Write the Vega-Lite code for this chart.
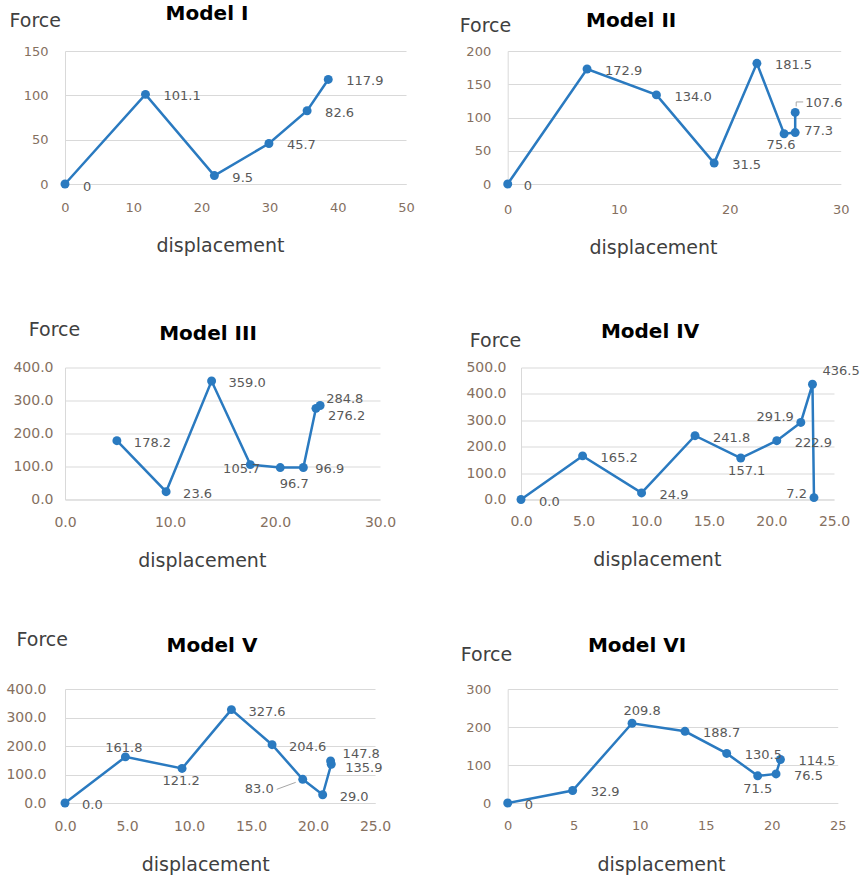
{
"$schema": "https://vega.github.io/schema/vega-lite/v6.json",
"padding": {"left": 5, "top": 4, "right": 5, "bottom": 3},
"config": {
 "view": {"stroke": null},
 "axis": {"labelFont": "DejaVu Sans", "labelFontSize": 13, "labelColor": "#85705f", "ticks": false, "tickSize": 0, "domainColor": "#d9d9d9", "gridColor": "#d9d9d9", "titleFont": "DejaVu Sans", "titleFontSize": 19, "titleFontWeight": "normal", "titleColor": "#404040", "labelFlush": false, "labelOverlap": false, "labelBound": false},
 "axisX": {"grid": false, "titleAlign": "center", "titleBaseline": "alphabetic"},
 "axisY": {"grid": true, "titleAngle": 0, "titleAlign": "left", "titleBaseline": "alphabetic"},
 "title": {"font": "DejaVu Sans", "fontSize": 20, "fontWeight": "bold", "color": "#000000", "anchor": "middle", "frame": "group", "baseline": "alphabetic"},
 "text": {"font": "DejaVu Sans", "fontSize": 13, "fill": "#595959"},
 "line": {"stroke": "#2a7ac0", "strokeWidth": 2.5},
 "circle": {"fill": "#2a7ac0", "size": 80, "opacity": 1},
 "rule": {"stroke": "#a6a6a6", "strokeWidth": 1}
},
"data": {"values": [
 {"model": "Model I", "step": 1, "disp": 0, "force": 0},
 {"model": "Model I", "step": 2, "disp": 11.8, "force": 101.1},
 {"model": "Model I", "step": 3, "disp": 21.9, "force": 9.5},
 {"model": "Model I", "step": 4, "disp": 29.9, "force": 45.7},
 {"model": "Model I", "step": 5, "disp": 35.5, "force": 82.6},
 {"model": "Model I", "step": 6, "disp": 38.6, "force": 117.9},
 {"model": "Model II", "step": 1, "disp": 0, "force": 0},
 {"model": "Model II", "step": 2, "disp": 7.15, "force": 172.9},
 {"model": "Model II", "step": 3, "disp": 13.4, "force": 134.0},
 {"model": "Model II", "step": 4, "disp": 18.6, "force": 31.5},
 {"model": "Model II", "step": 5, "disp": 22.45, "force": 181.5},
 {"model": "Model II", "step": 6, "disp": 24.9, "force": 75.6},
 {"model": "Model II", "step": 7, "disp": 25.9, "force": 77.3},
 {"model": "Model II", "step": 8, "disp": 25.9, "force": 107.6},
 {"model": "Model III", "step": 1, "disp": 4.94, "force": 178.2},
 {"model": "Model III", "step": 2, "disp": 9.63, "force": 23.6},
 {"model": "Model III", "step": 3, "disp": 13.96, "force": 359.0},
 {"model": "Model III", "step": 4, "disp": 17.65, "force": 105.7},
 {"model": "Model III", "step": 5, "disp": 20.5, "force": 96.7},
 {"model": "Model III", "step": 6, "disp": 22.7, "force": 96.9},
 {"model": "Model III", "step": 7, "disp": 23.9, "force": 276.2},
 {"model": "Model III", "step": 8, "disp": 24.3, "force": 284.8},
 {"model": "Model IV", "step": 1, "disp": 0, "force": 0},
 {"model": "Model IV", "step": 2, "disp": 4.92, "force": 165.2},
 {"model": "Model IV", "step": 3, "disp": 9.63, "force": 24.9},
 {"model": "Model IV", "step": 4, "disp": 13.9, "force": 241.8},
 {"model": "Model IV", "step": 5, "disp": 17.55, "force": 157.1},
 {"model": "Model IV", "step": 6, "disp": 20.43, "force": 222.9},
 {"model": "Model IV", "step": 7, "disp": 22.35, "force": 291.9},
 {"model": "Model IV", "step": 8, "disp": 23.28, "force": 436.5},
 {"model": "Model IV", "step": 9, "disp": 23.4, "force": 7.2},
 {"model": "Model V", "step": 1, "disp": 0, "force": 0},
 {"model": "Model V", "step": 2, "disp": 4.87, "force": 161.8},
 {"model": "Model V", "step": 3, "disp": 9.44, "force": 121.2},
 {"model": "Model V", "step": 4, "disp": 13.42, "force": 327.6},
 {"model": "Model V", "step": 5, "disp": 16.7, "force": 204.6},
 {"model": "Model V", "step": 6, "disp": 19.17, "force": 83.0},
 {"model": "Model V", "step": 7, "disp": 20.78, "force": 29.0},
 {"model": "Model V", "step": 8, "disp": 21.47, "force": 135.9},
 {"model": "Model V", "step": 9, "disp": 21.42, "force": 147.8},
 {"model": "Model VI", "step": 1, "disp": 0, "force": 0},
 {"model": "Model VI", "step": 2, "disp": 4.92, "force": 32.9},
 {"model": "Model VI", "step": 3, "disp": 9.42, "force": 209.8},
 {"model": "Model VI", "step": 4, "disp": 13.43, "force": 188.7},
 {"model": "Model VI", "step": 5, "disp": 16.59, "force": 130.5},
 {"model": "Model VI", "step": 6, "disp": 18.94, "force": 71.5},
 {"model": "Model VI", "step": 7, "disp": 20.33, "force": 76.5},
 {"model": "Model VI", "step": 8, "disp": 20.66, "force": 114.5}
]},
"spacing": 63.5,
"vconcat": [
 {"hconcat": [
  {"width": 341, "height": 133,
   "title": {"text": "Model I", "dx": -28.5, "offset": -12.3},
   "transform": [{"filter": "datum.model === 'Model I'"}],
   "encoding": {
    "x": {"field": "disp", "type": "quantitative", "scale": {"domain": [0, 50], "nice": false}, "axis": {"values": [0, 10, 20, 30, 40, 50], "format": "d", "title": "displacement", "titleX": 155, "titleY": 67.7, "labelPadding": 17}},
    "y": {"field": "force", "type": "quantitative", "scale": {"domain": [0, 150], "nice": false}, "axis": {"values": [0, 50, 100, 150], "format": "d", "title": "Force", "titleX": -56, "titleY": -24.3, "labelPadding": 17}}
   },
   "layer": [
    {"mark": {"type": "line"}, "encoding": {"order": {"field": "step", "type": "quantitative"}}},
    {"mark": {"type": "circle"}},
    {"transform": [{"filter": {"not": {"field": "force", "oneOf": [0]}}}], "mark": {"type": "text", "align": "left", "dx": 18, "dy": 2}, "encoding": {"text": {"field": "force", "format": ".1f"}}},
    {"transform": [{"filter": {"field": "force", "oneOf": [0]}}], "mark": {"type": "text", "align": "left", "dx": 18, "dy": 3}, "encoding": {"text": {"field": "force", "format": ".0f"}}}
   ]},
  {"width": 333, "height": 133,
   "title": {"text": "Model II", "dx": -43, "offset": -14.3},
   "transform": [{"filter": "datum.model === 'Model II'"}],
   "encoding": {
    "x": {"field": "disp", "type": "quantitative", "scale": {"domain": [0, 30], "nice": false}, "axis": {"values": [0, 10, 20, 30], "format": "d", "title": "displacement", "titleX": 145.3, "titleY": 69, "labelPadding": 19}},
    "y": {"field": "force", "type": "quantitative", "scale": {"domain": [0, 200], "nice": false}, "axis": {"values": [0, 50, 100, 150, 200], "format": "d", "title": "Force", "titleX": -48.4, "titleY": -19.3, "labelPadding": 17}}
   },
   "layer": [
    {"mark": {"type": "line"}, "encoding": {"order": {"field": "step", "type": "quantitative"}}},
    {"mark": {"type": "circle"}},
    {"transform": [{"filter": {"field": "force", "oneOf": [107.6]}}], "mark": {"type": "rule", "xOffset": 1, "x2Offset": 1, "yOffset": -6, "y2Offset": -10.5}, "encoding": {"x2": {"field": "disp"}, "y2": {"field": "force"}}},
    {"transform": [{"filter": {"field": "force", "oneOf": [107.6]}}], "mark": {"type": "rule", "xOffset": 1, "x2Offset": 8, "yOffset": -10.5, "y2Offset": -10.5}, "encoding": {"x2": {"field": "disp"}, "y2": {"field": "force"}}},
    {"transform": [{"filter": {"not": {"field": "force", "oneOf": [0, 75.6, 77.3, 107.6]}}}], "mark": {"type": "text", "align": "left", "dx": 18, "dy": 2}, "encoding": {"text": {"field": "force", "format": ".1f"}}},
    {"transform": [{"filter": {"field": "force", "oneOf": [0]}}], "mark": {"type": "text", "align": "left", "dx": 16, "dy": 2}, "encoding": {"text": {"field": "force", "format": ".0f"}}},
    {"transform": [{"filter": {"field": "force", "oneOf": [75.6]}}], "mark": {"type": "text", "align": "center", "dx": -3, "dy": 11}, "encoding": {"text": {"field": "force", "format": ".1f"}}},
    {"transform": [{"filter": {"field": "force", "oneOf": [77.3]}}], "mark": {"type": "text", "align": "left", "dx": 9, "dy": -2}, "encoding": {"text": {"field": "force", "format": ".1f"}}},
    {"transform": [{"filter": {"field": "force", "oneOf": [107.6]}}], "mark": {"type": "text", "align": "left", "dx": 10, "dy": -9}, "encoding": {"text": {"field": "force", "format": ".1f"}}}
   ]}
 ], "spacing": 101.7, "bounds": "flush"},
 {"spacing": 58.5,
  "vconcat": [
  {"hconcat": [
   {"width": 315, "height": 132,
    "title": {"text": "Model III", "dx": -14.5, "offset": -23.6},
    "transform": [{"filter": "datum.model === 'Model III'"}],
    "encoding": {
     "x": {"field": "disp", "type": "quantitative", "scale": {"domain": [0, 30], "nice": false}, "axis": {"values": [0, 10, 20, 30], "format": ".1f", "title": "displacement", "titleX": 136.8, "titleY": 67.2, "labelPadding": 16, "labelFontSize": 14}},
     "y": {"field": "force", "type": "quantitative", "scale": {"domain": [0, 400], "nice": false}, "axis": {"values": [0, 100, 200, 300, 400], "format": ".1f", "title": "Force", "titleX": -36.7, "titleY": -31.8, "labelPadding": 12, "labelFontSize": 14}}
    },
    "layer": [
     {"mark": {"type": "line"}, "encoding": {"order": {"field": "step", "type": "quantitative"}}},
     {"mark": {"type": "circle"}},
     {"transform": [{"filter": {"not": {"field": "force", "oneOf": [105.7, 96.7, 96.9, 276.2, 284.8]}}}], "mark": {"type": "text", "align": "left", "dx": 17, "dy": 2}, "encoding": {"text": {"field": "force", "format": ".1f"}}},
     {"transform": [{"filter": {"field": "force", "oneOf": [105.7]}}], "mark": {"type": "text", "align": "right", "dx": 10, "dy": 4}, "encoding": {"text": {"field": "force", "format": ".1f"}}},
     {"transform": [{"filter": {"field": "force", "oneOf": [96.7]}}], "mark": {"type": "text", "align": "center", "dx": 14, "dy": 16}, "encoding": {"text": {"field": "force", "format": ".1f"}}},
     {"transform": [{"filter": {"field": "force", "oneOf": [96.9]}}], "mark": {"type": "text", "align": "left", "dx": 12, "dy": 1}, "encoding": {"text": {"field": "force", "format": ".1f"}}},
     {"transform": [{"filter": {"field": "force", "oneOf": [276.2]}}], "mark": {"type": "text", "align": "left", "dx": 12, "dy": 8}, "encoding": {"text": {"field": "force", "format": ".1f"}}},
     {"transform": [{"filter": {"field": "force", "oneOf": [284.8]}}], "mark": {"type": "text", "align": "left", "dx": 6, "dy": -7}, "encoding": {"text": {"field": "force", "format": ".1f"}}}
    ]},
   {"width": 313, "height": 132,
    "title": {"text": "Model IV", "dx": -27.5, "offset": -11.3},
    "transform": [{"filter": "datum.model === 'Model IV'"}],
    "encoding": {
     "x": {"field": "disp", "type": "quantitative", "scale": {"domain": [0, 25], "nice": false}, "axis": {"values": [0, 5, 10, 15, 20, 25], "format": ".1f", "title": "displacement", "titleX": 135.8, "titleY": 65.5, "labelPadding": 15, "labelFontSize": 14}},
     "y": {"field": "force", "type": "quantitative", "scale": {"domain": [0, 500], "nice": false}, "axis": {"values": [0, 100, 200, 300, 400, 500], "format": ".1f", "title": "Force", "titleX": -51.7, "titleY": -21.5, "labelPadding": 15, "labelFontSize": 14}}
    },
    "layer": [
     {"mark": {"type": "line"}, "encoding": {"order": {"field": "step", "type": "quantitative"}}},
     {"mark": {"type": "circle"}},
     {"transform": [{"filter": {"not": {"field": "force", "oneOf": [157.1, 291.9, 436.5, 7.2]}}}], "mark": {"type": "text", "align": "left", "dx": 18, "dy": 2}, "encoding": {"text": {"field": "force", "format": ".1f"}}},
     {"transform": [{"filter": {"field": "force", "oneOf": [157.1]}}], "mark": {"type": "text", "align": "center", "dx": 6, "dy": 13}, "encoding": {"text": {"field": "force", "format": ".1f"}}},
     {"transform": [{"filter": {"field": "force", "oneOf": [291.9]}}], "mark": {"type": "text", "align": "right", "dx": -7, "dy": -5}, "encoding": {"text": {"field": "force", "format": ".1f"}}},
     {"transform": [{"filter": {"field": "force", "oneOf": [7.2]}}], "mark": {"type": "text", "align": "right", "dx": -7, "dy": -4}, "encoding": {"text": {"field": "force", "format": ".1f"}}},
     {"transform": [{"filter": {"field": "force", "oneOf": [436.5]}}], "mark": {"type": "text", "align": "left", "dx": 10, "dy": -13}, "encoding": {"text": {"field": "force", "format": ".1f"}}}
    ]}
  ], "spacing": 141, "bounds": "flush"},
  {"hconcat": [
   {"width": 310, "height": 114,
    "title": {"text": "Model V", "dx": -8, "offset": -25.7},
    "transform": [{"filter": "datum.model === 'Model V'"}],
    "encoding": {
     "x": {"field": "disp", "type": "quantitative", "scale": {"domain": [0, 25], "nice": false}, "axis": {"values": [0, 5, 10, 15, 20, 25], "format": ".1f", "title": "displacement", "titleX": 140.2, "titleY": 67.7, "labelPadding": 16.5, "labelFontSize": 14}},
     "y": {"field": "force", "type": "quantitative", "scale": {"domain": [0, 400], "nice": false}, "axis": {"values": [0, 100, 200, 300, 400], "format": ".1f", "title": "Force", "titleX": -49, "titleY": -44, "labelPadding": 19, "labelFontSize": 14}}
    },
    "layer": [
     {"mark": {"type": "line"}, "encoding": {"order": {"field": "step", "type": "quantitative"}}},
     {"mark": {"type": "circle"}},
     {"transform": [{"filter": {"field": "force", "oneOf": [83.0]}}], "mark": {"type": "rule", "xOffset": -26, "x2Offset": -7, "yOffset": 10, "y2Offset": 3}, "encoding": {"x2": {"field": "disp"}, "y2": {"field": "force"}}},
     {"transform": [{"filter": {"not": {"field": "force", "oneOf": [161.8, 121.2, 83.0, 147.8, 135.9]}}}], "mark": {"type": "text", "align": "left", "dx": 17, "dy": 2}, "encoding": {"text": {"field": "force", "format": ".1f"}}},
     {"transform": [{"filter": {"field": "force", "oneOf": [161.8]}}], "mark": {"type": "text", "align": "center", "dx": -1.5, "dy": -9}, "encoding": {"text": {"field": "force", "format": ".1f"}}},
     {"transform": [{"filter": {"field": "force", "oneOf": [121.2]}}], "mark": {"type": "text", "align": "center", "dx": -1, "dy": 13}, "encoding": {"text": {"field": "force", "format": ".1f"}}},
     {"transform": [{"filter": {"field": "force", "oneOf": [83.0]}}], "mark": {"type": "text", "align": "right", "dx": -29, "dy": 10}, "encoding": {"text": {"field": "force", "format": ".1f"}}},
     {"transform": [{"filter": {"field": "force", "oneOf": [147.8]}}], "mark": {"type": "text", "align": "left", "dx": 12, "dy": -7}, "encoding": {"text": {"field": "force", "format": ".1f"}}},
     {"transform": [{"filter": {"field": "force", "oneOf": [135.9]}}], "mark": {"type": "text", "align": "left", "dx": 14, "dy": 4}, "encoding": {"text": {"field": "force", "format": ".1f"}}}
    ]},
   {"width": 330, "height": 114,
    "title": {"text": "Model VI", "dx": -35.7, "offset": -10.7},
    "transform": [{"filter": "datum.model === 'Model VI'"}],
    "encoding": {
     "x": {"field": "disp", "type": "quantitative", "scale": {"domain": [0, 25], "nice": false}, "axis": {"values": [0, 5, 10, 15, 20, 25], "format": "d", "title": "displacement", "titleX": 153.3, "titleY": 67, "labelPadding": 16.4}},
     "y": {"field": "force", "type": "quantitative", "scale": {"domain": [0, 300], "nice": false}, "axis": {"values": [0, 100, 200, 300], "format": "d", "title": "Force", "titleX": -47.4, "titleY": -29, "labelPadding": 17}}
    },
    "layer": [
     {"mark": {"type": "line"}, "encoding": {"order": {"field": "step", "type": "quantitative"}}},
     {"mark": {"type": "circle"}},
     {"transform": [{"filter": {"not": {"field": "force", "oneOf": [0, 209.8, 71.5]}}}], "mark": {"type": "text", "align": "left", "dx": 18, "dy": 2}, "encoding": {"text": {"field": "force", "format": ".1f"}}},
     {"transform": [{"filter": {"field": "force", "oneOf": [0]}}], "mark": {"type": "text", "align": "left", "dx": 17, "dy": 2}, "encoding": {"text": {"field": "force", "format": ".0f"}}},
     {"transform": [{"filter": {"field": "force", "oneOf": [209.8]}}], "mark": {"type": "text", "align": "center", "dx": 10, "dy": -12}, "encoding": {"text": {"field": "force", "format": ".1f"}}},
     {"transform": [{"filter": {"field": "force", "oneOf": [71.5]}}], "mark": {"type": "text", "align": "center", "dx": 0, "dy": 13}, "encoding": {"text": {"field": "force", "format": ".1f"}}}
    ]}
  ], "spacing": 132.7, "bounds": "flush"}
 ]}
]
}
